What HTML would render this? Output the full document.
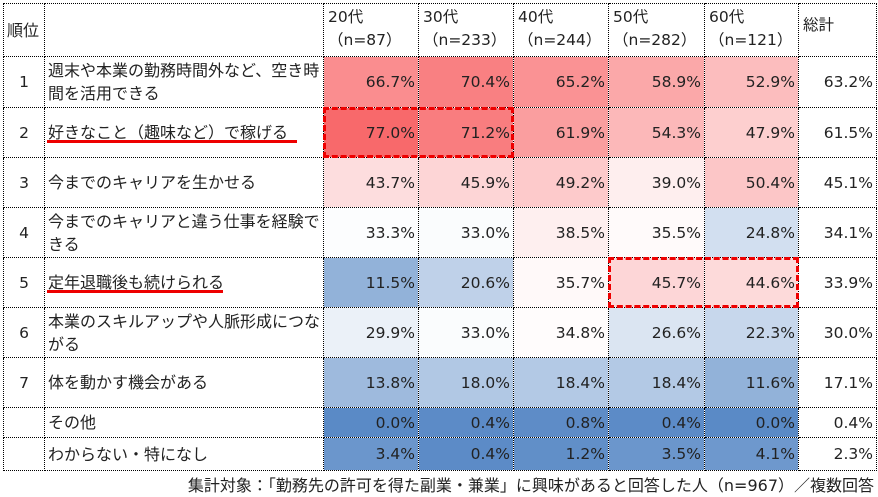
<!DOCTYPE html>
<html><head><meta charset="utf-8"><style>
body{margin:0;width:878px;height:497px;background:#fff;position:relative;overflow:hidden;font-family:"DejaVu Sans","Noto Sans CJK JP",sans-serif;color:#222;}
table{position:absolute;left:3px;top:3px;border-collapse:collapse;table-layout:fixed;font-size:15.5px;}
td{border:1px dotted #000;padding:0 4px;vertical-align:middle;white-space:nowrap;overflow:hidden;}
td.n{text-align:right;padding-right:3px;}
td.r{text-align:center;}
td.t{white-space:normal;line-height:23px;padding-left:3px;padding-right:0;font-size:16px;word-break:break-all;}
tr.h td{vertical-align:top;line-height:23px;padding-top:2px;}
.box{position:absolute;border:3px dashed #e00;box-sizing:border-box;}
.ul{position:absolute;height:3px;background:#e00;}
.foot{position:absolute;right:4px;top:472px;font-size:16px;white-space:nowrap;}
</style></head><body>
<table>
<colgroup><col style="width:41px"><col style="width:279px"><col style="width:95px"><col style="width:95px"><col style="width:95px"><col style="width:96px"><col style="width:94px"><col style="width:78px"></colgroup>
<tr class="h" style="height:53px"><td style="vertical-align:middle;padding:0 3px;font-size:16px">順位</td><td></td><td>20代<br>（n=87）</td><td>30代<br>（n=233）</td><td>40代<br>（n=244）</td><td>50代<br>（n=282）</td><td>60代<br>（n=121）</td><td style="vertical-align:top;padding-top:10px">総計</td></tr>
<tr style="height:51px"><td class="r">1</td><td class="t">週末や本業の勤務時間外など、空き時間を活用できる</td><td class="n" style="background:rgb(250,141,143)">66.7%</td><td class="n" style="background:rgb(249,128,130)">70.4%</td><td class="n" style="background:rgb(250,146,148)">65.2%</td><td class="n" style="background:rgb(251,168,169)">58.9%</td><td class="n" style="background:rgb(252,189,190)">52.9%</td><td class="n">63.2%</td></tr>
<tr style="height:50px"><td class="r">2</td><td class="t">好きなこと（趣味など）で稼げる</td><td class="n" style="background:rgb(248,105,107)">77.0%</td><td class="n" style="background:rgb(249,125,127)">71.2%</td><td class="n" style="background:rgb(250,158,159)">61.9%</td><td class="n" style="background:rgb(252,184,185)">54.3%</td><td class="n" style="background:rgb(253,207,207)">47.9%</td><td class="n">61.5%</td></tr>
<tr style="height:50px"><td class="r">3</td><td class="t">今までのキャリアを生かせる</td><td class="n" style="background:rgb(253,221,222)">43.7%</td><td class="n" style="background:rgb(253,213,214)">45.9%</td><td class="n" style="background:rgb(253,202,203)">49.2%</td><td class="n" style="background:rgb(254,238,238)">39.0%</td><td class="n" style="background:rgb(252,198,199)">50.4%</td><td class="n">45.1%</td></tr>
<tr style="height:50px"><td class="r">4</td><td class="t">今までのキャリアと違う仕事を経験できる</td><td class="n" style="background:rgb(252,253,254)">33.3%</td><td class="n" style="background:rgb(250,252,253)">33.0%</td><td class="n" style="background:rgb(254,239,239)">38.5%</td><td class="n" style="background:rgb(255,250,250)">35.5%</td><td class="n" style="background:rgb(210,223,240)">24.8%</td><td class="n">34.1%</td></tr>
<tr style="height:50px"><td class="r">5</td><td class="t">定年退職後も続けられる</td><td class="n" style="background:rgb(146,178,217)">11.5%</td><td class="n" style="background:rgb(191,209,233)">20.6%</td><td class="n" style="background:rgb(255,249,249)">35.7%</td><td class="n" style="background:rgb(253,214,215)">45.7%</td><td class="n" style="background:rgb(253,218,218)">44.6%</td><td class="n">33.9%</td></tr>
<tr style="height:50px"><td class="r">6</td><td class="t">本業のスキルアップや人脈形成につながる</td><td class="n" style="background:rgb(235,241,248)">29.9%</td><td class="n" style="background:rgb(250,252,253)">33.0%</td><td class="n" style="background:rgb(255,252,252)">34.8%</td><td class="n" style="background:rgb(219,229,242)">26.6%</td><td class="n" style="background:rgb(199,215,236)">22.3%</td><td class="n">30.0%</td></tr>
<tr style="height:50px"><td class="r">7</td><td class="t">体を動かす機会がある</td><td class="n" style="background:rgb(158,186,221)">13.8%</td><td class="n" style="background:rgb(177,200,228)">18.0%</td><td class="n" style="background:rgb(179,201,229)">18.4%</td><td class="n" style="background:rgb(179,201,229)">18.4%</td><td class="n" style="background:rgb(146,178,217)">11.6%</td><td class="n">17.1%</td></tr>
<tr style="height:30px"><td></td><td class="t">その他</td><td class="n" style="background:rgb(90,138,198)">0.0%</td><td class="n" style="background:rgb(92,139,199)">0.4%</td><td class="n" style="background:rgb(94,140,199)">0.8%</td><td class="n" style="background:rgb(92,139,199)">0.4%</td><td class="n" style="background:rgb(90,138,198)">0.0%</td><td class="n">0.4%</td></tr>
<tr style="height:33px"><td></td><td class="t">わからない・特になし</td><td class="n" style="background:rgb(107,150,204)">3.4%</td><td class="n" style="background:rgb(92,139,199)">0.4%</td><td class="n" style="background:rgb(97,143,200)">1.2%</td><td class="n" style="background:rgb(107,150,204)">3.5%</td><td class="n" style="background:rgb(110,152,205)">4.1%</td><td class="n">2.3%</td></tr>
</table>
<div class="box" style="left:323px;top:107px;width:191px;height:51px"></div>
<div class="box" style="left:608px;top:257px;width:191px;height:51px"></div>
<div class="ul" style="left:47px;top:140px;width:250px"></div>
<div class="ul" style="left:47px;top:290px;width:176px"></div>
<div class="foot">集計対象：「勤務先の許可を得た副業・兼業」に興味があると回答した人（n=967）／複数回答</div>
</body></html>
